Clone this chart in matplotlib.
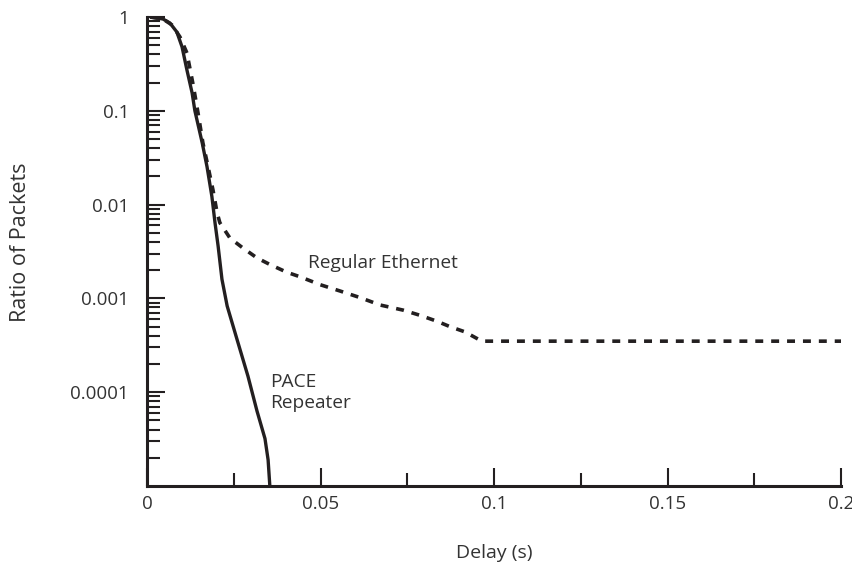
import matplotlib
matplotlib.use("Agg")
import matplotlib.pyplot as plt
from matplotlib.ticker import LogLocator, NullFormatter, MultipleLocator
import numpy as np

plt.rcParams["font.family"] = ["Open Sans", "DejaVu Sans"]

# PACE Repeater (solid)
pace_x = [0.0009, 0.0046, 0.0066, 0.0086, 0.0101, 0.0115, 0.0130, 0.0138, 0.0159,
          0.0173, 0.0187, 0.0196, 0.0205, 0.0216, 0.0231, 0.0259, 0.0291, 0.0317,
          0.0340, 0.0349, 0.0354]
pace_y = [1.0, 0.952, 0.863, 0.692, 0.480, 0.273, 0.155, 0.100, 0.0457,
          0.0253, 0.0122, 0.0064, 0.0036, 0.0016, 0.00083, 0.00037, 0.000148, 6.3e-5,
          3.2e-5, 1.9e-5, 1.0e-5]

# Regular Ethernet (dashed)
eth_x = [0.0009, 0.0046, 0.0072, 0.0095, 0.0115, 0.0133, 0.0147, 0.0161, 0.0176,
         0.0190, 0.0202, 0.0210, 0.0239, 0.0274, 0.0317, 0.0354, 0.0403, 0.0441,
         0.0499, 0.0556, 0.0614, 0.0672, 0.0738, 0.0787, 0.0836, 0.0873, 0.0916,
         0.0965, 0.2]
eth_y = [1.0, 0.952, 0.822, 0.613, 0.414, 0.189, 0.095, 0.0457, 0.0253,
         0.0144, 0.0082, 0.0064, 0.0044, 0.0035, 0.0027, 0.0023, 0.0019, 0.0017,
         0.0014, 0.0012, 0.00102, 0.00085, 0.00075, 0.00066, 0.00057, 0.00050, 0.00044,
         0.00035, 0.00035]

ytick_vals = [1, 0.1, 0.01, 0.001, 0.0001]
ytick_labels = ["1", "0.1", "0.01", "0.001", "0.0001"]
xtick_vals = [0, 0.05, 0.1, 0.15, 0.2]
xtick_labels = ["0", "0.05", "0.1", "0.15", "0.2"]

ink = "#231f20"
txt = "#333333"

fig = plt.figure(figsize=(8.53, 5.71), dpi=100)
ax = fig.add_axes([147 / 853, 1 - 486 / 571, (841 - 147) / 853, (486 - 17) / 571])

ax.plot(pace_x, pace_y, color=ink, lw=2.4, solid_capstyle="butt")
ax.plot(eth_x, eth_y, color=ink, lw=2.6, linestyle=(0, (2.2, 2.2)), dash_capstyle="butt")

ax.set_yscale("log")
ax.set_xlim(0, 0.2)
ax.set_ylim(1e-5, 1)

ax.set_yticks(ytick_vals)
ax.set_yticklabels(ytick_labels)
ax.yaxis.set_minor_locator(LogLocator(base=10, subs=np.arange(2, 10)))
ax.yaxis.set_minor_formatter(NullFormatter())
ax.set_xticks(xtick_vals)
ax.set_xticklabels(xtick_labels)
ax.xaxis.set_minor_locator(MultipleLocator(0.025))

for s in ["top", "right"]:
    ax.spines[s].set_visible(False)
for s in ["left", "bottom"]:
    ax.spines[s].set_linewidth(2.2)
    ax.spines[s].set_color(ink)

ax.tick_params(which="major", direction="in", length=13, width=1.5, color=ink,
               labelsize=13.5, labelcolor=txt)
ax.tick_params(which="minor", direction="in", length=9.4, width=1.5, color=ink)
ax.tick_params(axis="y", which="major", pad=13)
ax.tick_params(axis="x", which="major", pad=6.5)

ax.set_xlabel("Delay (s)", fontsize=14, color=txt, labelpad=22)
ax.set_ylabel("Ratio of Packets", fontsize=15.5, color=txt)
ax.yaxis.set_label_coords(-0.167, 0.52)

ax.text(0.0464, 0.00241, "Regular Ethernet", fontsize=13.75, color=txt, va="center", ha="left")
ax.text(0.0355, 9.9e-5, "PACE\nRepeater", fontsize=13.75, color=txt, va="center", ha="left",
        linespacing=1.2)

fig.savefig("out.png", dpi=100)
